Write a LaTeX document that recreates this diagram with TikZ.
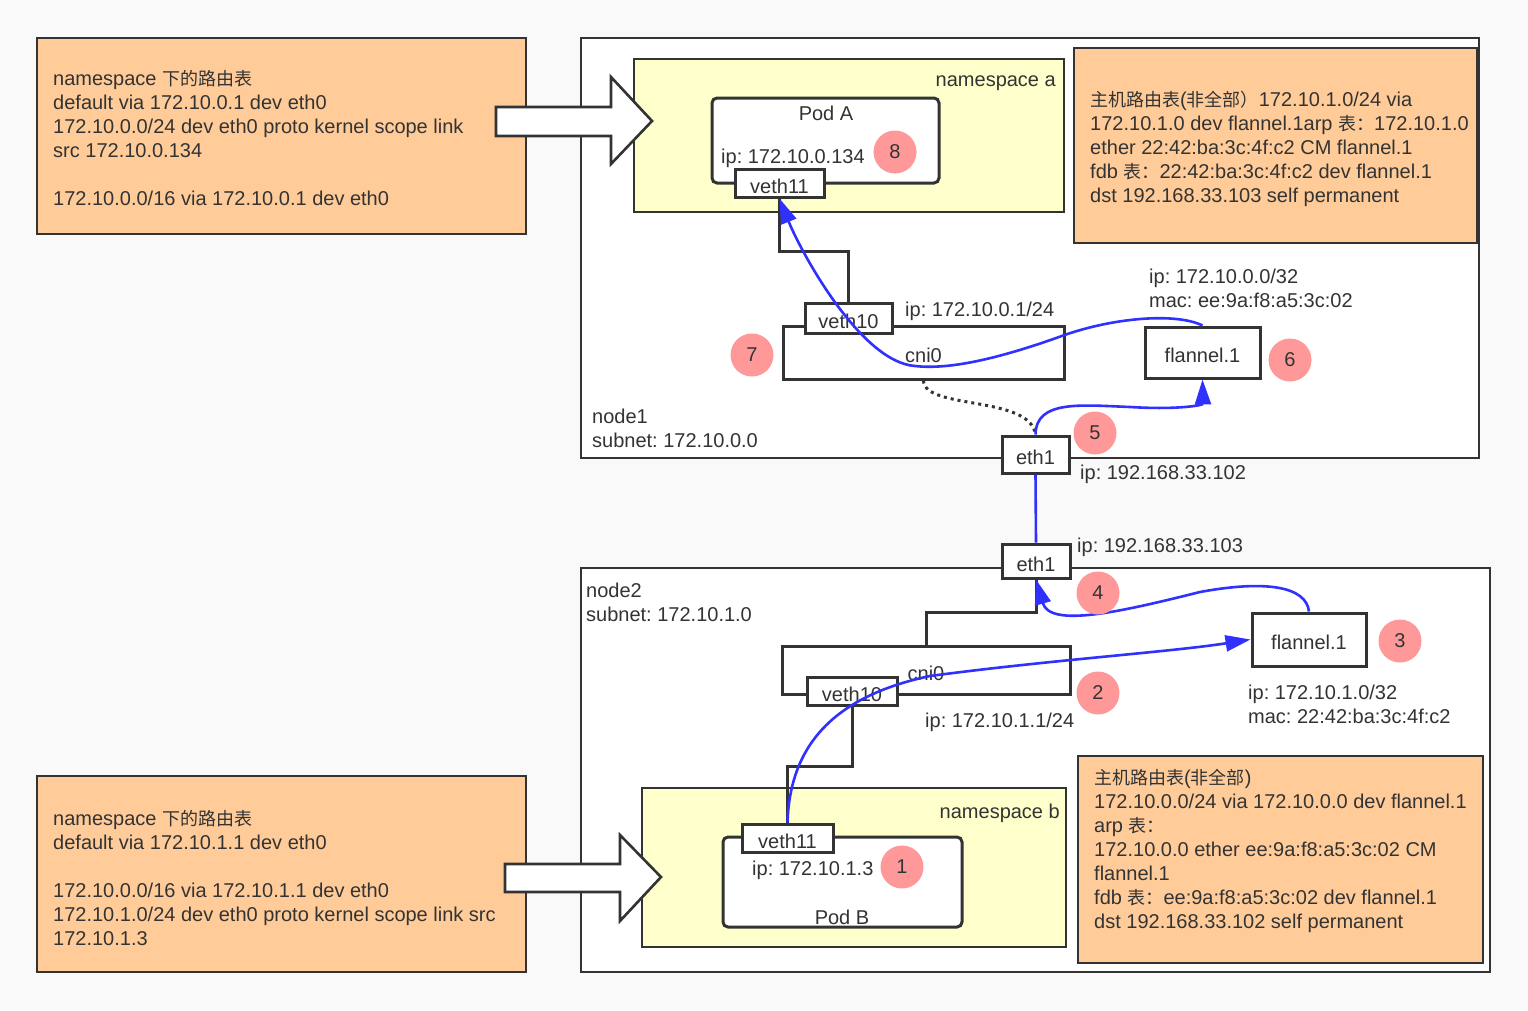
\documentclass[tikz,border=0pt]{standalone}
\usepackage{fontspec}
\setmainfont{Liberation Sans}
\newfontfamily\cjk[Scale=0.9]{Noto Sans CJK SC}
\usetikzlibrary{arrows.meta}
\definecolor{linec}{HTML}{333333}
\definecolor{bgc}{HTML}{F9F9F9}
\definecolor{tblc}{HTML}{FFCC99}
\definecolor{nsc}{HTML}{FFFFCC}
\definecolor{hopc}{HTML}{FF9999}
\definecolor{flowc}{HTML}{3030FF}
\frenchspacing
\tikzset{
  every node/.style={text=linec, font=\fontsize{20}{24}\selectfont},
  dev/.style={draw=linec, line width=3pt, fill=white, inner sep=0pt, text height=20pt, text depth=0pt},
  hop/.style={circle, fill=hopc, minimum size=43pt, inner sep=0pt},
  tbl/.style={draw=linec, line width=2.6pt, fill=tblc},
  ns/.style={draw=linec, line width=2.6pt, fill=nsc},
  host/.style={draw=linec, line width=2.2pt, fill=white},
  wire/.style={draw=linec, line width=3pt},
  flow/.style={draw=flowc, line width=2.6pt, -{Triangle[length=25pt,width=16pt]}},
  bigarrow/.style={draw=linec, line width=2.6pt, fill=white},
  note/.style={anchor=west, align=left, inner sep=0pt},
}

\begin{document}
\begin{tikzpicture}[x=1pt,y=-1pt]
				%%%%% BACKGROUND %%%%%
				\fill[bgc] (0,0) rectangle (1528,1010);
				\useasboundingbox (0,0) rectangle (1528,1010);

				%%%%% NODE1 %%%%%
				\draw[host] (581,38) rectangle (1479,458);
				\draw[ns] (634,59) rectangle (1064,212);
				\node[anchor=east, inner sep=0pt] (nsa) at (1056,83) {namespace a};
				\node[dev, rounded corners=5pt, minimum width=227pt, minimum height=85pt] (poda) at (825.5,140.5) {};
				\node (podalbl) at (826,113) {Pod A};
				\node[note] (podaip) at (721,158) {ip: 172.10.0.134};
				\node[dev, minimum width=89pt, minimum height=28pt] (vethaa) at (779.5,183) {veth11};

				\node[dev, minimum width=281pt, minimum height=53pt] (cnia) at (923.5,352.5) {cni0};
				\node[dev, minimum width=87pt, minimum height=30pt] (vethab) at (848.5,318.5) {veth10};
				\node[note] (cniaip) at (905,311) {ip: 172.10.0.1/24};
				\draw[wire] (vethaa.south) -- ++(0,53) -| (vethab.north);

				\node[dev, minimum width=115pt, minimum height=51pt] (flana) at (1202.5,352.5) {flannel.1};
				\node[note] (flanaip) at (1149,288) {ip: 172.10.0.0/32\\mac: ee:9a:f8:a5:3c:02};

				\node[note] (nodea) at (592,428) {node1\\subnet: 172.10.0.0};
				\node[dev, minimum width=67pt, minimum height=37pt] (etha) at (1035.5,454.5) {eth1};
				\node[note] (ethaip) at (1080,474) {ip: 192.168.33.102};
				\draw[linec, line width=3pt, dash pattern=on 3pt off 4pt] (cnia.south) .. controls (924,410) and (1030,395) .. (etha.north);

				%%%%% NODE2 %%%%%
				\draw[host] (581,568) rectangle (1490,972);
				\node[note] (nodeb) at (586,602) {node2\\subnet: 172.10.1.0};
				\node[dev, minimum width=68pt, minimum height=34pt] (ethb) at (1036,561) {eth1};
				\node[note] (ethbip) at (1077,547) {ip: 192.168.33.103};

				\node[dev, minimum width=288pt, minimum height=48pt] (cnib) at (926,670) {cni0};
				\draw[wire] (ethb.south) -- ++(0,33) -| (cnib.north);
				\node[dev, minimum width=90pt, minimum height=28pt] (vethbb) at (852,691) {veth10};
				\node[note] (cnibip) at (925,722) {ip: 172.10.1.1/24};

				\node[dev, minimum width=114pt, minimum height=53pt] (flanb) at (1309,639.5) {flannel.1};
				\node[note] (flanbip) at (1248,704) {ip: 172.10.1.0/32\\mac: 22:42:ba:3c:4f:c2};

				\draw[ns] (642,788) rectangle (1066,947);
				\node[anchor=east, inner sep=0pt] (nsb) at (1060,813) {namespace b};
				\node[dev, rounded corners=5pt, minimum width=239pt, minimum height=90pt] (podb) at (842.5,882) {};
				\node (podblbl) at (842,917) {Pod B};
				\node[note] (podbip) at (752,870) {ip: 172.10.1.3};
				\node[dev, minimum width=91pt, minimum height=28pt] (vethba) at (787.5,838) {veth11};
				\draw[wire] (vethbb.south) -- ++(0,60) -| (vethba.north);

				%%%%% TABLES %%%%%
				\draw[tbl] (37,38) rectangle (526,234);
				\node[note] (tbla) at (53,138) {namespace {\cjk 下的路由表}\\default via 172.10.0.1 dev eth0\\172.10.0.0/24 dev eth0 proto kernel scope link\\src 172.10.0.134\\[24pt]172.10.0.0/16 via 172.10.0.1 dev eth0};
				\draw[bigarrow] (496,107) -- (611,107) -- (611,77) -- (652,121) -- (611,164) -- (611,136) -- (496,136) -- cycle;

				\draw[tbl] (1074,48) rectangle (1477,243);
				\node[note] (tblb) at (1090,149) {{\cjk 主机路由表}({\cjk 非全部）}172.10.1.0/24 via\\172.10.1.0 dev flannel.1arp {\cjk 表：}172.10.1.0\\ether 22:42:ba:3c:4f:c2 CM flannel.1\\fdb {\cjk 表：}22:42:ba:3c:4f:c2 dev flannel.1\\dst 192.168.33.103 self permanent};

				\draw[tbl] (37,776) rectangle (526,972);
				\node[note] (tblc) at (53,878) {namespace {\cjk 下的路由表}\\default via 172.10.1.1 dev eth0\\[24pt]172.10.0.0/16 via 172.10.1.1 dev eth0\\172.10.1.0/24 dev eth0 proto kernel scope link src\\172.10.1.3};
				\draw[bigarrow] (505,864) -- (620,864) -- (620,835) -- (661,877) -- (620,921) -- (620,892) -- (505,892) -- cycle;

				\draw[tbl] (1078,756) rectangle (1483,963);
				\node[note] (tbld) at (1094,851) {{\cjk 主机路由表}({\cjk 非全部})\\172.10.0.0/24 via 172.10.0.0 dev flannel.1\\arp {\cjk 表：}\\172.10.0.0 ether ee:9a:f8:a5:3c:02 CM\\flannel.1\\fdb {\cjk 表：}ee:9a:f8:a5:3c:02 dev flannel.1\\dst 192.168.33.102 self permanent};

				%%%%% FLOW %%%%%
				\draw[flow] (vethba.north) .. controls (790,740) and (840,695) .. (930,676) .. controls (1050,660) and (1170,652) .. (flanb.west);
				\draw[flow] (flanb.north) .. controls (1306,586) and (1265,580) .. (1200,592) .. controls (1120,612) and (1050,628) .. (ethb.south);
				\draw[draw=flowc, line width=2.6pt] (etha.south) -- (ethb.north);
				\draw[flow] (etha.north) .. controls (1036,400) and (1080,405) .. (1130,407) .. controls (1180,410) and (1203,405) .. (flana.south);
				\draw[flow] (flana.north) .. controls (1175,312) and (1110,318) .. (1059,337) .. controls (1000,358) and (950,370) .. (915,366) .. controls (860,362) and (800,250) .. (vethaa.south);

				\node[hop] (hopa) at (902,867) {1};
				\node[hop] (hopb) at (1098,693) {2};
				\node[hop] (hopc) at (1400,641) {3};
				\node[hop] (hopd) at (1098,593) {4};
				\node[hop] (hope) at (1095,433) {5};
				\node[hop] (hopf) at (1290,360) {6};
				\node[hop] (hopg) at (752,355) {7};
				\node[hop] (hoph) at (895,152) {8};
\end{tikzpicture}
\end{document}
